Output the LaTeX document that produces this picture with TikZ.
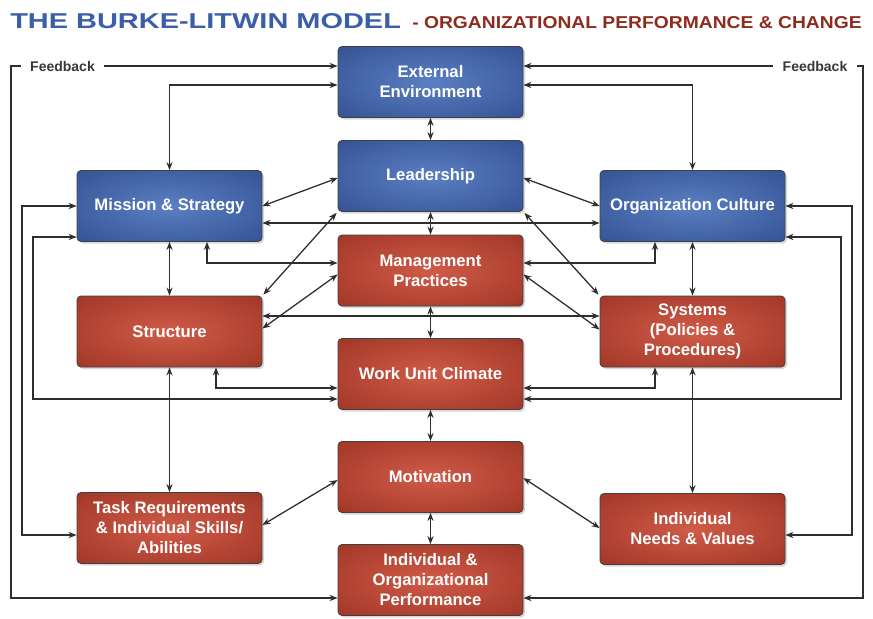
\documentclass[tikz,border=0pt]{standalone}
\usepackage{fontspec}
\setmainfont{Liberation Sans}
\usetikzlibrary{arrows.meta,calc,shadows}
\definecolor{blueC}{HTML}{5A7FC2}
\definecolor{blueE}{HTML}{2C4889}
\definecolor{redC}{HTML}{D05B48}
\definecolor{redE}{HTML}{972E1F}
\definecolor{lineC}{HTML}{2E2E2E}
\definecolor{titleBlue}{HTML}{3A5FA8}
\definecolor{titleRed}{HTML}{8E2B1F}
\pgfdeclareradialshading{bluesh}{\pgfpoint{0bp}{0bp}}{color(0bp)=(blueC); color(44bp)=(blueE); color(50bp)=(blueE)}
\pgfdeclareradialshading{redsh}{\pgfpoint{0bp}{0bp}}{color(0bp)=(redC); color(44bp)=(redE); color(50bp)=(redE)}
\tikzset{
  box/.style={rounded corners=3pt, minimum width=138.75pt, minimum height=53.25pt,
    inner sep=0pt, align=center, text=white,
    font=\bfseries\fontsize{12.5}{15}\selectfont,
    draw=black!75, line width=0.6pt,
    drop shadow={opacity=0.3, shadow xshift=1.5pt, shadow yshift=-1.5pt}},
  bbox/.style={box, shading=bluesh},
  rbox/.style={box, shading=redsh},
  conn/.style={draw=lineC, line width=0.95pt, <->},
  fb/.style={font=\bfseries\fontsize{10.5}{12}\selectfont, text=black!78, inner xsep=7pt, inner ysep=0pt},
  >={Stealth[length=6pt,width=4.6pt]}
}
\begin{document}
\begin{tikzpicture}[x=0.75pt,y=-0.75pt]
\useasboundingbox[fill=white] (0,0) rectangle (873,618);

% title
\node[anchor=base west, inner sep=0pt, text=titleBlue] (t1) at (10,28)
  {\resizebox{293pt}{11.25pt}{\bfseries THE BURKE-LITWIN MODEL}};
\node[anchor=base west, inner sep=0pt, text=titleRed] (t2) at (412,28)
  {\resizebox{337pt}{9pt}{\bfseries - ORGANIZATIONAL PERFORMANCE \& CHANGE}};

% boxes
\node[bbox] (ext)  at (430.5,82)  {External\\Environment};
\node[bbox] (lead) at (430.5,176) {Leadership};
\node[bbox] (ms)   at (169.5,206) {Mission \& Strategy};
\node[bbox] (oc)   at (692.5,206) {Organization Culture};
\node[rbox] (mp)   at (430.5,270.5) {Management\\Practices};
\node[rbox] (st)   at (169.5,331.5) {Structure};
\node[rbox] (sys)  at (692.5,331.5) {Systems\\(Policies \&\\Procedures)};
\node[rbox] (wuc)  at (430.5,374) {Work Unit Climate};
\node[rbox] (mot)  at (430.5,477) {Motivation};
\node[rbox] (task) at (169.5,528) {Task Requirements\\\& Individual Skills/\\Abilities};
\node[rbox] (ind)  at (692.5,529) {Individual\\Needs \& Values};
\node[rbox] (perf) at (430.5,580) {Individual \&\\Organizational\\Performance};

% feedback labels
\node[fb] (fbl) at (62.5,66) {Feedback};
\node[fb] (fbr) at (815,66) {Feedback};

% lane coordinates
\coordinate (xL1) at (11,0);
\coordinate (xL2) at (22,0);
\coordinate (xL3) at (33,0);
\coordinate (xR1) at (863,0);
\coordinate (xR2) at (852,0);
\coordinate (xR3) at (841,0);
\coordinate (xMSb) at (207,0);
\coordinate (xSTb) at (216,0);
\coordinate (xOCb) at (655,0);
\coordinate (yT2) at (0,85);
\coordinate (yMS) at (0,223);
\coordinate (yLow) at (0,237);
\coordinate (yMP) at (0,263);
\coordinate (ySS) at (0,316);
\coordinate (yW1) at (0,388);
\coordinate (yW2) at (0,399);
\coordinate (yTk) at (0,535);
\coordinate (yFB) at (0,598);

% feedback loops
\draw[conn,->] (fbl.east) -- (fbl.east -| ext.west);
\draw[conn,->] (fbl.west) -- (fbl.west -| xL1) -- (xL1 |- yFB) -- (perf.west |- yFB);
\draw[conn,->] (fbr.west) -- (fbr.west -| ext.east);
\draw[conn,->] (fbr.east) -- (fbr.east -| xR1) -- (xR1 |- yFB) -- (perf.east |- yFB);

% central column
\draw[conn] (ext) -- (lead);
\draw[conn] (lead) -- (mp);
\draw[conn] (mp) -- (wuc);
\draw[conn] (wuc) -- (mot);
\draw[conn] (mot) -- (perf);

% external to mission / culture
\draw[conn] (ms.north) |- (ext.west |- yT2);
\draw[conn] (oc.north) |- (ext.east |- yT2);

% leadership diagonals
\draw[conn] (ms.east) -- ($(lead.west)+(0,2)$);
\draw[conn] (oc.west) -- ($(lead.east)+(0,2)$);
\draw[conn] ($(lead.south west)+(-1,1)$) -- ($(st.north east)+(1,-1)$);
\draw[conn] ($(lead.south east)+(1,1)$) -- ($(sys.north west)+(-1,-1)$);

% mission <-> culture
\draw[conn] (ms.east |- yMS) -- (oc.west |- yMS);

% verticals at sides
\draw[conn] (ms) -- (st);
\draw[conn] (st) -- (task);
\draw[conn] (oc) -- (sys);
\draw[conn] (sys) -- (ind);

% to management practices
\draw[conn] (ms.south -| xMSb) |- (mp.west |- yMP);
\draw[conn] (oc.south -| xOCb) |- (mp.east |- yMP);
\draw[conn] ($(st.east)+(0,-3)$) -- ($(mp.west)+(0,4)$);
\draw[conn] ($(sys.west)+(0,-2)$) -- ($(mp.east)+(0,4)$);

% structure <-> systems
\draw[conn] (st.east |- ySS) -- (sys.west |- ySS);

% to work unit climate
\draw[conn] (st.south -| xSTb) |- (wuc.west |- yW1);
\draw[conn] (sys.south -| xOCb) |- (wuc.east |- yW1);
\draw[conn] (ms.west |- yLow) -| (xL3 |- yW2) -- (wuc.west |- yW2);
\draw[conn] (oc.east |- yLow) -| (xR3 |- yW2) -- (wuc.east |- yW2);

% mission/culture to task/needs
\draw[conn] (ms.west) -| (xL2 |- yTk) -- (task.west |- yTk);
\draw[conn] (oc.east) -| (xR2 |- yTk) -- (ind.east |- yTk);

% motivation diagonals
\draw[conn] ($(task.east)+(0,-3)$) -- ($(mot.west)+(0,3)$);
\draw[conn] ($(ind.west)+(0,-1)$) -- ($(mot.east)+(0,1)$);
\end{tikzpicture}
\end{document}
